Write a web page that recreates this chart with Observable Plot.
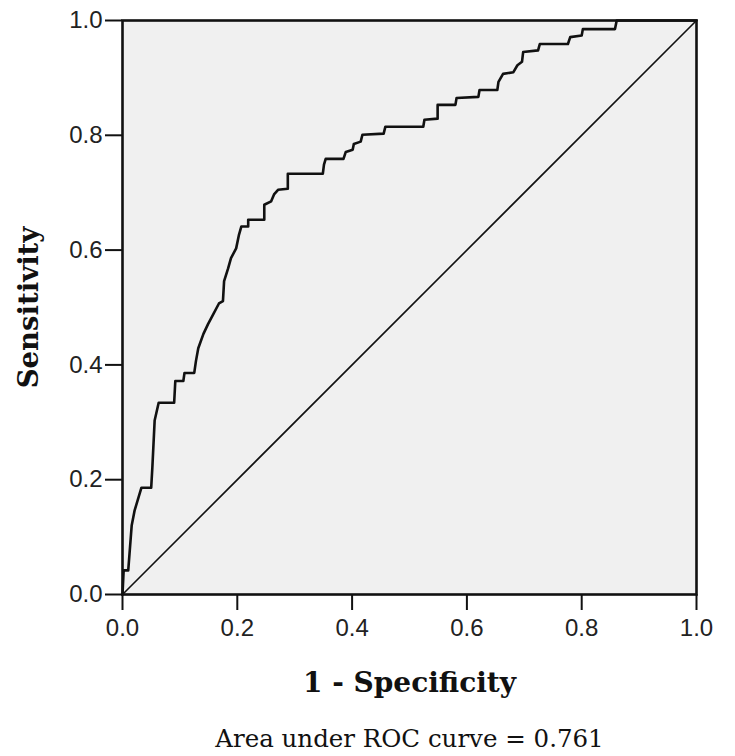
<!DOCTYPE html>
<html>
<head>
<meta charset="utf-8">
<script src="https://cdn.jsdelivr.net/npm/d3@7"></script>
<script src="https://cdn.jsdelivr.net/npm/@observablehq/plot@0.6"></script>
<style>
  body { margin: 0; background: #fff; }
  #chart svg { display: block; }
</style>
</head>
<body>
<div id="chart"></div>
<script>
// ROC curve: 1 - specificity (false positive rate) and sensitivity
const fpr = [0,0.002,0.010,0.016,0.021,0.033,0.050,0.052,0.056,0.063,
  0.090,0.092,0.106,0.108,0.125,0.128,0.132,0.141,0.149,0.158,
  0.168,0.175,0.177,0.184,0.189,0.198,0.203,0.207,0.219,0.219,
  0.247,0.247,0.259,0.264,0.271,0.288,0.288,0.349,0.351,0.354,
  0.385,0.389,0.401,0.403,0.415,0.418,0.455,0.458,0.524,0.526,
  0.549,0.549,0.580,0.582,0.620,0.622,0.653,0.655,0.663,0.681,
  0.688,0.696,0.698,0.724,0.727,0.776,0.780,0.800,0.802,0.858,
  0.861,1];
const sensitivity = [0,0.042,0.042,0.120,0.146,0.186,0.186,0.221,0.303,0.334,
  0.334,0.372,0.372,0.386,0.386,0.407,0.429,0.454,0.471,0.488,
  0.507,0.511,0.546,0.568,0.586,0.603,0.627,0.641,0.641,0.653,
  0.653,0.679,0.685,0.697,0.705,0.707,0.733,0.733,0.749,0.759,
  0.759,0.771,0.775,0.785,0.789,0.801,0.803,0.815,0.815,0.827,
  0.829,0.853,0.853,0.865,0.867,0.879,0.879,0.893,0.907,0.910,
  0.922,0.928,0.945,0.948,0.959,0.959,0.971,0.974,0.985,0.985,
  1,1];
const refX = [0, 1];
const refY = [0, 1];
const tickValues = [0, 0.2, 0.4, 0.6, 0.8, 1.0];
const xTitle = "1 - Specificity";
const yTitle = "Sensitivity";
const caption = "Area under ROC curve = 0.761";

const roc = fpr.map((x, i) => ({x, y: sensitivity[i]}));
const ref = refX.map((x, i) => ({x, y: refY[i]}));

const serif = "'DejaVu Serif', 'Liberation Serif', serif";

const plot = Plot.plot({
  width: 735,
  height: 756,
  marginLeft: 122,
  marginRight: 39,
  marginTop: 20,
  marginBottom: 162,
  style: {fontFamily: "'Liberation Sans', Arial, sans-serif", fontSize: "24px", color: "#222", background: "#fff"},
  x: {domain: [0, 1]},
  y: {domain: [0, 1]},
  marks: [
    Plot.frame({fill: "#f0f0f0", stroke: null}),
    Plot.axisX({ticks: tickValues, tickFormat: d3.format(".1f"), tickSize: 16, tickPadding: 8, strokeWidth: 2, stroke: "#111", label: null, fontSize: 24, fill: "#222"}),
    Plot.axisY({ticks: tickValues, tickFormat: d3.format(".1f"), tickSize: 17, tickPadding: 3, strokeWidth: 2, stroke: "#111", label: null, fontSize: 24, fill: "#222"}),
    Plot.line(ref, {x: "x", y: "y", stroke: "#111", strokeWidth: 1.6}),
    Plot.line(roc, {x: "x", y: "y", stroke: "#111", strokeWidth: 2.6, curve: "linear"}),
    Plot.frame({stroke: "#111", strokeWidth: 2.6}),
    Plot.text([xTitle], {frameAnchor: "bottom", dy: 97, text: d => d, fontFamily: serif, fontWeight: "bold", fontSize: 28, fill: "#111"}),
    Plot.text([yTitle], {frameAnchor: "left", textAnchor: "middle", dx: -93, rotate: -90, text: d => d, fontFamily: serif, fontWeight: "bold", fontSize: 27.5, fill: "#111"}),
    Plot.text([caption], {frameAnchor: "bottom", dy: 152, text: d => d, fontFamily: serif, fontSize: 24.5, fill: "#111"})
  ]
});
document.getElementById("chart").appendChild(plot);
</script>
</body>
</html>
